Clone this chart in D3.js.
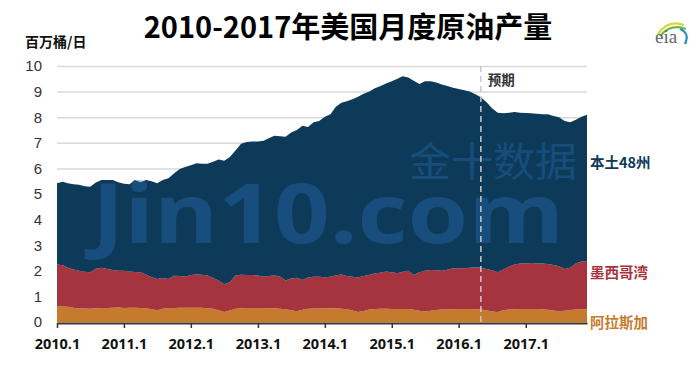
<!DOCTYPE html>
<html>
<head>
<meta charset="utf-8">
<script src="https://cdn.jsdelivr.net/npm/d3@7"></script>
<style>
  html, body { margin: 0; padding: 0; background: #fff; }
  svg { display: block; }
</style>
</head>
<body>
<svg id="chart" width="700" height="366"></svg>
<script>
// ---- Data (million barrels per day), monthly Jan 2010 – Dec 2017 ----
const startYear = 2010;
const alaska = [
  0.61,0.61,0.60,0.56,0.53,0.53,0.52,0.54,0.55,0.55,0.56,0.57,
  0.55,0.56,0.56,0.55,0.54,0.50,0.46,0.52,0.55,0.55,0.56,0.56,
  0.56,0.56,0.56,0.54,0.52,0.46,0.39,0.45,0.52,0.54,0.55,0.55,
  0.55,0.55,0.54,0.54,0.52,0.50,0.46,0.42,0.48,0.52,0.53,0.53,
  0.53,0.54,0.54,0.52,0.50,0.45,0.39,0.43,0.49,0.51,0.52,0.52,
  0.51,0.51,0.51,0.51,0.48,0.44,0.41,0.44,0.47,0.49,0.49,0.50,
  0.51,0.51,0.51,0.50,0.49,0.46,0.41,0.39,0.46,0.49,0.50,0.51,
  0.51,0.51,0.51,0.50,0.48,0.45,0.42,0.44,0.47,0.49,0.50,0.50
];
const gulf = [
  1.64,1.61,1.52,1.49,1.47,1.43,1.42,1.54,1.57,1.52,1.47,1.43,
  1.45,1.41,1.39,1.39,1.32,1.25,1.22,1.20,1.13,1.26,1.24,1.21,
  1.28,1.30,1.29,1.28,1.20,1.16,1.08,1.11,1.30,1.31,1.29,1.29,
  1.27,1.22,1.26,1.28,1.26,1.12,1.24,1.31,1.16,1.22,1.24,1.24,
  1.22,1.23,1.28,1.34,1.30,1.32,1.35,1.37,1.35,1.39,1.40,1.45,
  1.43,1.39,1.45,1.49,1.36,1.50,1.59,1.59,1.55,1.51,1.55,1.60,
  1.59,1.59,1.61,1.64,1.63,1.61,1.61,1.55,1.59,1.67,1.75,1.78,
  1.78,1.79,1.78,1.79,1.79,1.78,1.76,1.63,1.65,1.80,1.86,1.88
];
const lower48 = [
  3.17,3.26,3.30,3.33,3.36,3.34,3.34,3.37,3.43,3.48,3.52,3.46,
  3.40,3.41,3.60,3.52,3.69,3.75,3.74,3.83,3.94,3.99,4.18,4.28,
  4.28,4.34,4.33,4.36,4.54,4.73,4.83,4.89,4.88,5.11,5.19,5.21,
  5.23,5.31,5.38,5.46,5.48,5.62,5.70,5.77,6.03,5.88,6.03,6.08,
  6.27,6.35,6.58,6.70,6.82,6.93,7.06,7.12,7.16,7.23,7.30,7.35,
  7.46,7.60,7.64,7.55,7.58,7.36,7.40,7.37,7.34,7.28,7.18,7.05,
  7.00,6.95,6.88,6.76,6.66,6.51,6.33,6.23,6.10,6.01,5.95,5.88,
  5.87,5.85,5.84,5.83,5.85,5.82,5.82,5.78,5.68,5.61,5.66,5.72
];
const seriesKeys = ["alaska", "gulf", "lower48"];
const seriesNames = ["阿拉斯加", "墨西哥湾", "本土48州"];
const seriesColors = ["#c57a2d", "#a5343f", "#0d3a59"];
const yTicks = [0,1,2,3,4,5,6,7,8,9,10];
const xTickYears = [2010,2011,2012,2013,2014,2015,2016,2017];
const forecastStart = new Date(2016, 4, 1);
const title = "2010-2017年美国月度原油产量";
const unitLabel = "百万桶/日";
const forecastLabel = "预期";

// ---- Build table ----
const rows = alaska.map((v, i) => ({
  date: new Date(startYear, i, 1),
  alaska: v, gulf: gulf[i], lower48: lower48[i]
}));

const svg = d3.select("#chart");
const x = d3.scaleTime()
  .domain([rows[0].date, rows[rows.length - 1].date])
  .range([57, 587]);
const y = d3.scaleLinear().domain([0, 10]).range([322, 66]);

// Title
svg.append("text")
  .attr("x", 348).attr("y", 38)
  .attr("text-anchor", "middle")
  .attr("font-family", "'Noto Sans CJK SC', sans-serif")
  .attr("font-weight", "bold").attr("font-size", 29)
  .attr("fill", "#000")
  .text(title);

// Unit label
svg.append("text")
  .attr("x", 25).attr("y", 47)
  .attr("font-family", "'Noto Sans CJK SC', sans-serif")
  .attr("font-weight", "bold").attr("font-size", 14)
  .attr("fill", "#111")
  .text(unitLabel);

// EIA logo
const logo = svg.append("g").attr("transform", "translate(655,16)");
logo.append("path").attr("d", "M3,18 Q13,3 29,9").attr("fill", "none").attr("stroke", "#d6d935").attr("stroke-width", 2.2);
logo.append("path").attr("d", "M5,20 Q16,7 31,13").attr("fill", "none").attr("stroke", "#6fb54a").attr("stroke-width", 2.2);
logo.append("path").attr("d", "M25,13 Q35,17 30,28").attr("fill", "none").attr("stroke", "#2d8cc4").attr("stroke-width", 2.2);
logo.append("text").attr("x", 0).attr("y", 27)
  .attr("font-family", "'Liberation Serif', serif").attr("font-size", 19)
  .attr("fill", "#666").text("eia");

// Y axis with gridlines
const yAxis = d3.axisLeft(y).tickValues(yTicks).tickSize(-530).tickPadding(15).tickFormat(d3.format("d"));
const yg = svg.append("g").attr("transform", "translate(57,0)").call(yAxis);
yg.select(".domain").remove();
yg.selectAll(".tick line").attr("stroke", "#d9d9d9").attr("stroke-width", 1.5);
yg.selectAll(".tick text")
  .attr("font-family", "'Liberation Sans', Arial, sans-serif")
  .attr("font-size", 15).attr("fill", "#333");

// Stacked areas
const stack = d3.stack().keys(seriesKeys);
const layers = stack(rows);
const area = d3.area()
  .x(d => x(d.data.date))
  .y0(d => y(d[0]))
  .y1(d => y(d[1]));
svg.append("g").selectAll("path")
  .data(layers).join("path")
  .attr("d", area)
  .attr("fill", (d, i) => seriesColors[i]);

// Watermark
const wm = svg.append("g").attr("pointer-events", "none");
wm.append("text")
  .attr("x", 409).attr("y", 176)
  .attr("font-family", "'Noto Sans CJK SC', sans-serif")
  .attr("font-size", 40)
  .attr("fill", "rgb(40,110,180)").attr("fill-opacity", 0.4)
  .attr("textLength", 168).attr("lengthAdjust", "spacingAndGlyphs")
  .text("金十数据");
wm.append("text")
  .attr("x", 92).attr("y", 243)
  .attr("font-family", "'Open Sans', sans-serif")
  .attr("font-weight", "bold").attr("font-size", 82)
  .attr("fill", "rgb(40,110,180)").attr("fill-opacity", 0.4)
  .attr("textLength", 472).attr("lengthAdjust", "spacingAndGlyphs")
  .text("Jin10.com");

// Forecast divider
svg.append("line")
  .attr("x1", x(forecastStart)).attr("x2", x(forecastStart))
  .attr("y1", y(10)).attr("y2", y(0))
  .attr("stroke", "#c9c9c9").attr("stroke-width", 1.5)
  .attr("stroke-dasharray", "6,4");
svg.append("text")
  .attr("x", x(forecastStart) + 7).attr("y", 85)
  .attr("font-family", "'Noto Sans CJK SC', sans-serif")
  .attr("font-size", 13.5).attr("font-weight", "bold")
  .attr("fill", "#333").text(forecastLabel);

// X axis
const xAxis = d3.axisBottom(x)
  .tickValues(xTickYears.map(yr => new Date(yr, 0, 1)))
  .tickFormat(d => d.getFullYear() + ".1")
  .tickSize(5).tickSizeOuter(0).tickPadding(11);
const xg = svg.append("g").attr("transform", "translate(0,323)").call(xAxis);
xg.select(".domain").attr("stroke", "#4a3520").attr("stroke-width", 2);
xg.selectAll(".tick line").attr("stroke", "#333").attr("stroke-width", 1.5);
xg.selectAll(".tick text")
  .attr("font-family", "'Open Sans', sans-serif")
  .attr("font-weight", "bold").attr("font-size", 14.5)
  .attr("fill", "#111");

// Series labels at right
const labelY = [328, 278, 168];
seriesNames.forEach((name, i) => {
  svg.append("text")
    .attr("x", 590).attr("y", labelY[i])
    .attr("font-family", "'Noto Sans CJK SC', sans-serif")
    .attr("font-weight", "bold").attr("font-size", 14.5)
    .attr("fill", seriesColors[i])
    .text(name);
});
</script>
</body>
</html>
